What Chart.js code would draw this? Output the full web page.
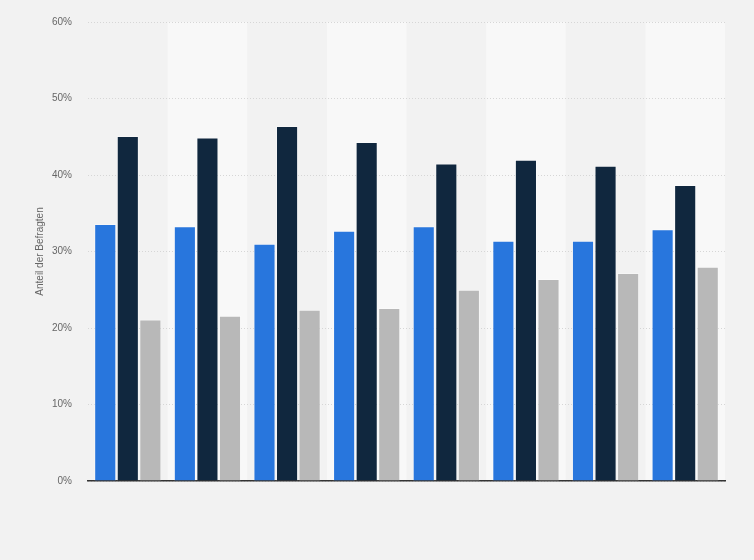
<!DOCTYPE html>
<html>
<head>
<meta charset="utf-8">
<script src="https://cdn.jsdelivr.net/npm/chart.js@4/dist/chart.umd.min.js"></script>
<style>
  html, body { margin: 0; padding: 0; background: #f2f2f2; }
  #wrap { width: 754px; height: 560px; }
</style>
</head>
<body>
<div id="wrap"><canvas id="bar-chart" width="754" height="560"></canvas></div>
<script>
// categories are not labelled in the picture
const categories = ['1', '2', '3', '4', '5', '6', '7', '8'];
const seriesNames = ['Reihe 1', 'Reihe 2', 'Reihe 3'];
const blueValues = [33.6, 33.3, 31.0, 32.7, 33.3, 31.4, 31.4, 32.9];
const navyValues = [45.1, 44.9, 46.4, 44.3, 41.5, 42.0, 41.2, 38.7];
const greyValues = [21.1, 21.6, 22.4, 22.6, 25.0, 26.4, 27.2, 28.0];
const yTicks = [0, 10, 20, 30, 40, 50, 60];

// alternating column shading behind grid and bars
const bandPlugin = {
  id: 'bands',
  beforeDraw(chart) {
    const { ctx, chartArea, scales } = chart;
    const x = scales.x;
    const step = x.width / categories.length;
    ctx.save();
    categories.forEach((c, i) => {
      if (i % 2 === 1) {
        const cx = x.getPixelForValue(i);
        ctx.fillStyle = '#f8f8f8';
        ctx.fillRect(cx - step / 2, chartArea.top, step, chartArea.bottom - chartArea.top);
      }
    });
    ctx.restore();
  }
};

const data = {
  labels: categories,
  datasets: [
    {
      label: seriesNames[0],
      data: blueValues,
      backgroundColor: '#2876dd',
      borderColor: 'rgba(255,255,255,0.35)',
      borderWidth: 1
    },
    {
      label: seriesNames[1],
      data: navyValues,
      backgroundColor: '#10273e',
      borderColor: 'rgba(255,255,255,0.35)',
      borderWidth: 1
    },
    {
      label: seriesNames[2],
      data: greyValues,
      backgroundColor: '#b8b8b8',
      borderColor: 'rgba(255,255,255,0.35)',
      borderWidth: 1
    }
  ]
};

new Chart(document.getElementById('bar-chart'), {
  type: 'bar',
  data: data,
  plugins: [bandPlugin],
  options: {
    responsive: false,
    animation: false,
    layout: {
      padding: { left: 0, top: 19, right: 29, bottom: 79 }
    },
    datasets: {
      bar: {
        categoryPercentage: 0.85,
        barPercentage: 0.98
      }
    },
    plugins: {
      legend: { display: false },
      tooltip: { enabled: false }
    },
    scales: {
      x: {
        border: { display: true, color: '#333', width: 1.5 },
        grid: { display: false, drawTicks: false },
        ticks: { display: false }
      },
      y: {
        min: 0,
        max: 60,
        afterFit(scale) { scale.width = 88; },
        afterBuildTicks(scale) { scale.ticks = yTicks.map(v => ({ value: v })); },
        border: { display: false, dash: [1, 2] },
        grid: {
          drawTicks: false,
          color: '#d6d6d6',
          lineWidth: 1
        },
        ticks: {
          padding: 16,
          color: '#666',
          font: { family: 'Liberation Sans, Arial, sans-serif', size: 10 },
          callback: v => v + '%'
        },
        title: {
          display: true,
          text: 'Anteil der Befragten',
          color: '#666',
          padding: { top: 34, bottom: 0 },
          font: { family: 'Liberation Sans, Arial, sans-serif', size: 10 }
        }
      }
    }
  }
});
</script>
</body>
</html>
